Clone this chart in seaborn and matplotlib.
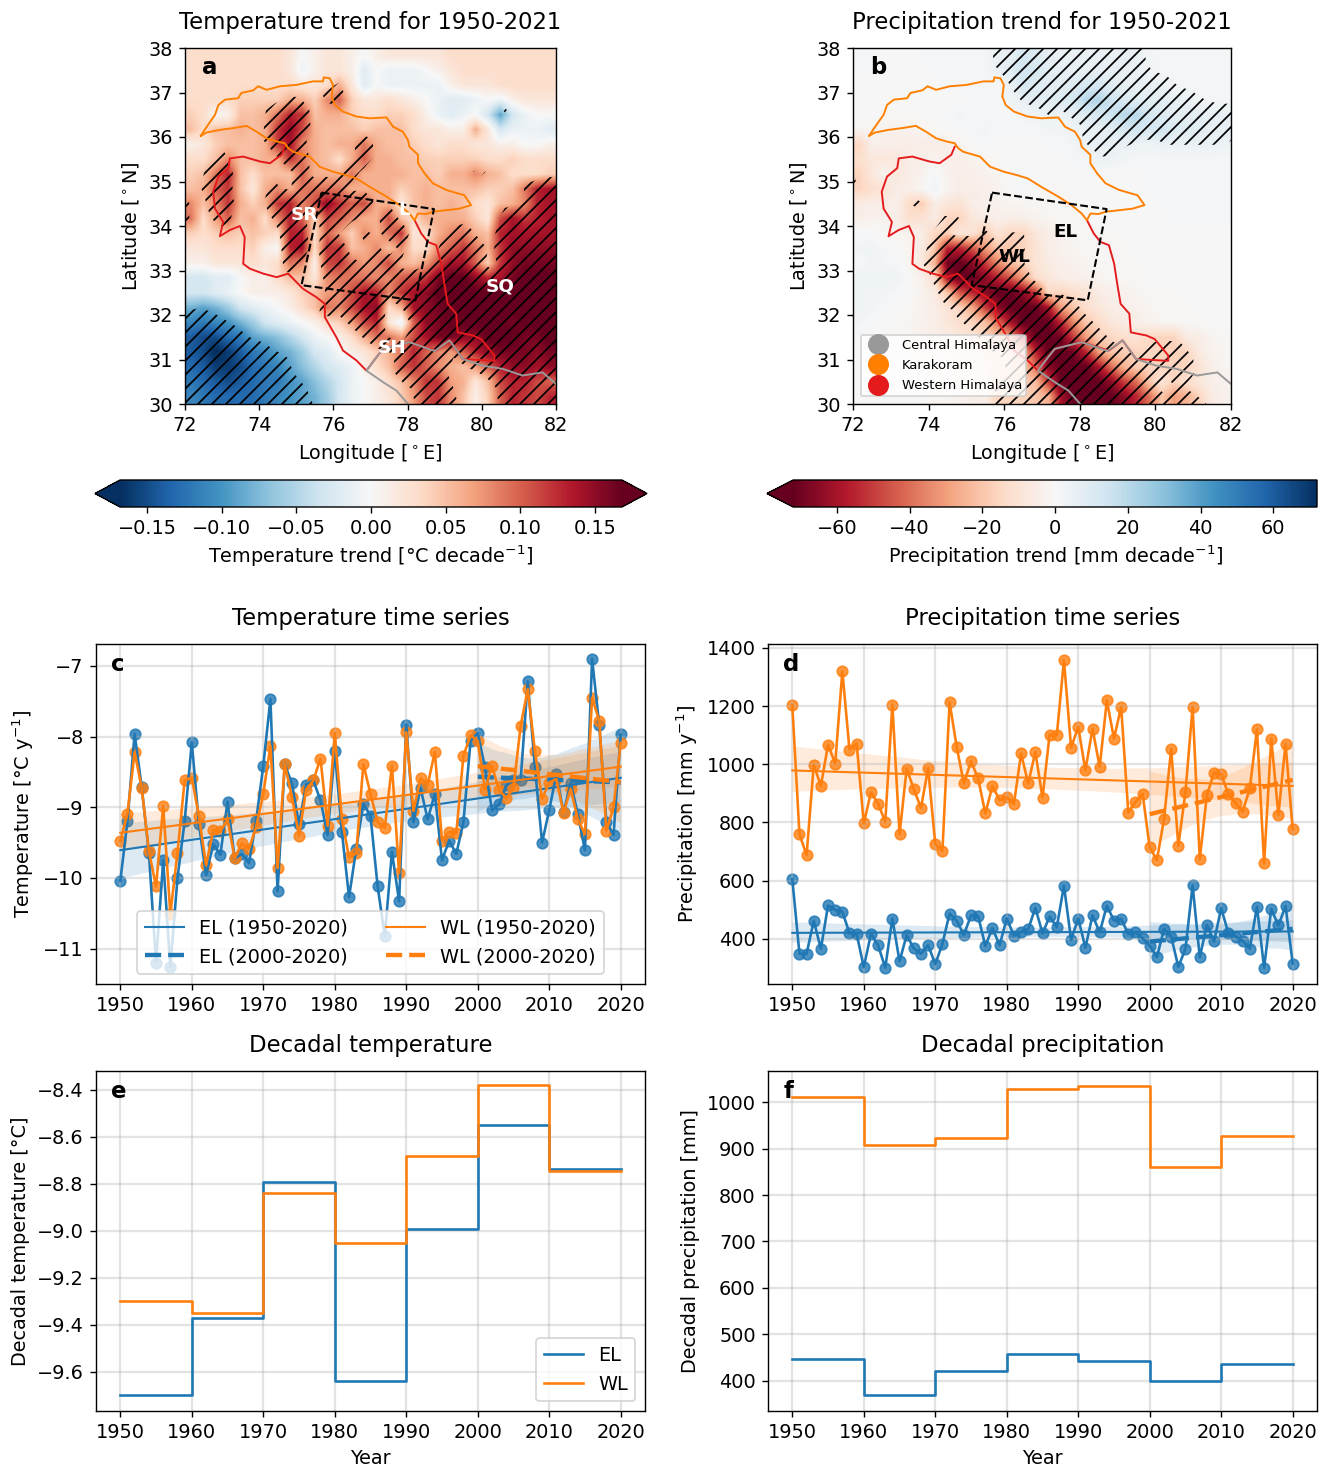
import numpy as np
import pandas as pd
import seaborn as sns
import matplotlib.pyplot as plt
from matplotlib.cm import ScalarMappable
from matplotlib.colors import Normalize
from matplotlib.lines import Line2D

W, H, DPI = 1327, 1466, 126

years = list(range(1950, 2021))
decades = [1950, 1960, 1970, 1980, 1990, 2000, 2010, 2020]

temp_el = [-10.04, -9.2, -7.96, -8.72, -9.65, -11.2, -9.75, -11.26, -10.0, -9.2,
           -8.08, -9.24, -9.96, -9.52, -9.67, -8.92, -9.72, -9.66, -9.79, -9.19,
           -8.41, -7.47, -10.19, -8.39, -8.66, -9.24, -8.68, -8.62, -8.9, -9.39,
           -8.2, -9.35, -10.27, -9.59, -8.95, -9.12, -10.12, -10.82, -9.63, -10.33,
           -7.83, -9.21, -8.73, -9.17, -8.81, -9.75, -9.47, -9.66, -9.21, -8.06,
           -7.95, -8.43, -9.04, -8.96, -8.69, -8.62, -8.62, -7.22, -8.43, -9.5,
           -9.04, -8.53, -9.07, -8.66, -9.09, -9.61, -6.9, -7.84, -9.21, -9.39, -7.97]
temp_wl = [-9.48, -9.09, -8.22, -8.73, -9.62, -10.12, -8.98, -10.51, -9.64, -8.62,
           -8.58, -9.13, -9.82, -9.32, -9.34, -9.17, -9.72, -9.51, -9.59, -9.28,
           -8.81, -8.13, -9.86, -8.39, -8.85, -9.4, -8.75, -8.62, -8.31, -9.26,
           -7.95, -9.17, -9.71, -9.65, -8.39, -8.81, -9.21, -9.29, -8.41, -9.93,
           -7.94, -9.05, -8.59, -8.68, -8.22, -9.47, -9.35, -9.37, -8.27, -7.98,
           -8.06, -8.75, -8.42, -8.76, -8.87, -8.73, -7.85, -7.33, -8.21, -8.88,
           -8.65, -8.6, -9.08, -8.74, -9.17, -9.38, -7.45, -7.78, -9.33, -9.0, -8.09]
prec_el = [605, 349, 349, 462, 366, 515, 499, 494, 419, 417,
           303, 417, 378, 301, 470, 323, 413, 367, 349, 379,
           313, 383, 487, 462, 414, 481, 478, 376, 437, 378,
           470, 411, 424, 433, 507, 419, 477, 440, 583, 397,
           470, 370, 481, 422, 514, 463, 469, 417, 422, 402,
           377, 337, 434, 408, 304, 366, 584, 337, 448, 391,
           506, 419, 408, 393, 366, 511, 301, 503, 446, 513, 315]
prec_wl = [1202, 759, 688, 997, 926, 1067, 1002, 1319, 1050, 1071,
           797, 903, 865, 802, 1205, 759, 985, 914, 850, 986,
           726, 702, 1213, 1059, 934, 1010, 951, 831, 925, 877,
           886, 863, 1037, 934, 1042, 885, 1102, 1099, 1357, 1057,
           1128, 979, 1122, 991, 1219, 1088, 1197, 834, 870, 899,
           714, 671, 811, 1053, 720, 905, 1197, 674, 894, 971,
           966, 897, 867, 837, 917, 1120, 659, 1088, 826, 1070, 776]

dec_temp_el = [-9.70, -9.37, -8.79, -9.64, -8.99, -8.55, -8.735, -8.735]
dec_temp_wl = [-9.30, -9.35, -8.84, -9.05, -8.68, -8.38, -8.745, -8.745]
dec_prec_el = [447, 370, 421, 457, 442, 399, 437, 437]
dec_prec_wl = [1010, 908, 923, 1028, 1035, 860, 926, 926]

# trend maps, rows from 38N down to 30N, columns from 72E to 82E
# temperature in 0.01 C/decade, precipitation in mm/decade
temp_trend = [
    [3, 3, 3, 3, 3, 3, 3, 3, 2, 0, 1, 2, 2, 1, 0, 1, 2, 2, 2, 2, 2, 3, 3, 3, 3, 3, 3, 3, 3, 3],
    [3, 3, 3, 3, 3, 3, 3, 3, 2, -1, 1, 2, 2, 1, -2, 0, -1, -1, -1, 0, 1, 2, 3, 3, 3, 3, 3, 3, 3, 3],
    [3, 3, 3, 3, 3, 3, 3, 3, 3, 2, 2, 3, 6, 2, -2, 0, -1, -1, -1, -1, -1, 1, 2, 2, 2, 3, 3, 3, 3, 3],
    [3, 3, 3, 3, 4, 4, 4, 4, 6, 6, 4, 8, 10, 4, 2, 2, 3, 2, 1, 0, -1, -2, -2, -1, 0, -1, 1, 2, 2, 2],
    [4, 3, 0, 1, 5, 5, 6, 9, 13, 12, 5, 6, 6, 4, 3, 3, 4, 4, 3, 1, -1, -2, -1, 0, -3, -9, -3, -1, 0, 0],
    [5, 3, 5, 5, 6, 5, 6, 12, 15, 11, 6, 5, 5, 5, 4, 5, 5, 5, 3, 2, 2, 1, 1, 6, 2, -3, -1, -1, -1, -2],
    [1, 2, 4, 5, 5, 5, 6, 12, 14, 8, 6, 5, 6, 6, 9, 6, 5, 5, 4, 3, 2, 3, 3, 2, 2, 1, 1, 0, 0, 1],
    [3, 3, 5, 8, 5, 5, 6, 6, 12, 9, 6, 5, 3, 6, 10, 6, 6, 5, 5, 4, 4, 4, 4, 4, 3, 3, 4, 3, 3, 3],
    [4, 5, 9, 13, 5, 3, 5, 5, 5, 10, 6, 6, 6, 9, 6, 6, 6, 6, 5, 5, 4, 6, 6, 8, 6, 5, 3, 3, 3, 4],
    [5, 6, 10, 12, 5, 2, 6, 8, 6, 9, 9, 9, 9, 6, 6, 6, 6, 4, 5, 6, 5, 5, 5, 5, 4, 4, 5, 9, 13, 14],
    [8, 5, 8, 12, 6, 4, 6, 12, 13, 8, 11, 15, 12, 10, 11, 6, 6, 2, 5, 6, 5, 6, 5, 3, 2, 5, 6, 8, 13, 14],
    [9, 3, 7, 10, 5, 6, 3, 8, 13, 10, 4, 11, 10, 8, 6, 6, 11, 5, 3, 6, 6, 6, 6, 4, 2, 11, 14, 12, 13, 14],
    [4, 3, 4, 5, 4, 5, 4, 3, 13, 13, 3, 10, 7, 4, 8, 6, 9, 12, 2, 3, 6, 8, 9, 6, 5, 13, 14, 14, 14, 14],
    [2, 2, 3, 3, 3, 4, 1, 0, 13, 14, 3, 12, 12, 5, 6, 8, 5, 8, 3, 3, 8, 10, 12, 9, 6, 12, 15, 15, 15, 15],
    [1, 1, 2, 2, 2, 3, 2, 3, 9, 8, 1, 11, 12, 9, 7, 8, 11, 6, 5, 7, 11, 14, 14, 10, 4, 12, 15, 16, 16, 16],
    [-3, -3, -2, -2, 0, 1, 1, 3, 5, 5, 2, 8, 9, 9, 9, 8, 8, 10, 11, 12, 16, 17, 17, 15, 13, 14, 16, 17, 17, 17],
    [-3, -3, -2, -1, 0, 1, 1, 1, 2, 4, 5, 7, 8, 11, 14, 13, 8, 12, 14, 15, 17, 17, 17, 17, 17, 17, 17, 17, 17, 17],
    [-8, -9, -8, -6, -3, -2, -1, 0, 1, 3, 5, 9, 8, 11, 14, 15, 3, 6, 14, 15, 16, 17, 17, 17, 17, 17, 17, 17, 17, 17],
    [-11, -12, -11, -10, -8, -6, -3, -2, -1, 0, 1, 3, 4, 7, 11, 13, 2, -1, 10, 15, 16, 17, 17, 17, 17, 17, 16, 17, 17, 17],
    [-14, -15, -15, -13, -12, -9, -8, -7, -5, -3, -1, 0, 1, 3, 6, 9, 9, 7, 11, 14, 16, 16, 15, 15, 17, 17, 17, 16, 16, 17],
    [-14, -15, -17, -16, -14, -12, -11, -9, -8, -6, -3, -2, 0, 1, 2, 4, 6, 9, 13, 10, 8, 7, 10, 13, 15, 16, 16, 16, 15, 16],
    [-13, -14, -16, -16, -15, -13, -12, -11, -9, -7, -5, -3, -2, -1, 1, 3, 5, 10, 12, 10, 8, 6, 5, 7, 10, 13, 15, 15, 14, 15],
    [-12, -13, -14, -15, -14, -13, -12, -12, -10, -9, -7, -5, -3, -1, 0, 1, 3, 5, 8, 12, 12, 7, 6, 2, 5, 11, 13, 13, 11, 10],
    [-11, -12, -13, -13, -13, -13, -12, -11, -10, -9, -8, -6, -3, -1, 0, 1, 2, 4, 7, 11, 12, 8, 5, 1, 4, 10, 13, 12, 11, 13],
]
prec_trend = [
    [1, 1, 0, 0, 0, 1, 1, 1, 1, 1, 1, 5, 6, 12, 10, 7, 5, 5, 5, 5, 5, 6, 5, 2, 1, 1, 1, 1, 1, 1],
    [1, 1, 0, 0, 0, 0, 1, 1, 1, 1, 1, 5, 8, 15, 12, 8, 6, 6, 6, 6, 6, 6, 6, 2, 1, 1, 1, 1, 1, 1],
    [0, 0, 0, 0, 0, 0, 0, 1, 1, 1, 1, 1, 5, 12, 10, 8, 8, 10, 12, 12, 8, 6, 6, 6, 5, 2, 1, 1, 1, 1],
    [0, 0, 0, 0, 0, 0, 0, 0, 0, 1, 1, 1, 2, 6, 8, 8, 10, 12, 20, 22, 15, 11, 9, 8, 8, 6, 5, 2, 1, 1],
    [0, 0, -1, -1, -1, 0, 0, 1, 2, 1, 1, 1, 1, 2, 3, 5, 4, 6, 10, 12, 15, 20, 20, 13, 9, 8, 8, 8, 6, 6],
    [-2, -2, -3, -3, -3, -2, -1, 0, 1, 1, 2, 1, 1, 1, 1, 2, 2, 3, 5, 6, 8, 12, 14, 12, 14, 10, 9, 8, 6, 6],
    [-15, -4, -4, -5, -5, -5, -5, -4, -3, 0, 1, 0, 0, 0, 0, 1, 1, 2, 5, 6, 6, 5, 4, 3, 5, 5, 5, 5, 5, 4],
    [-12, -8, -8, -8, -5, -4, -3, -4, -4, -3, -1, -1, 0, 0, 0, 0, 0, 1, 1, 4, 4, 2, 1, 1, 1, 1, 1, 1, 1, 1],
    [-16, -8, -2, -8, -5, -3, 1, -3, -4, -4, -3, -2, 0, 2, 0, 0, 0, 0, 0, 0, 0, 0, 0, 1, 1, 1, 1, 1, 1, 1],
    [-16, -12, -10, -5, -4, -1, 3, -2, -5, -4, -4, -3, 0, 1, 0, -1, -1, 0, 0, 0, 0, 0, 0, 1, 1, 1, 1, 1, 1, 1],
    [-6, -5, -5, -4, -14, -18, -5, -9, -10, -5, -3, -3, -2, -2, -1, -1, -1, -1, 0, 0, 0, 0, 0, 0, 1, 1, 1, 1, 1, 1],
    [-4, -3, -3, -5, -12, -10, -6, -16, -16, -8, -6, -4, -5, -4, -3, -2, -1, -1, -1, 0, 0, 0, 0, 0, 0, 1, 1, 1, 1, 1],
    [1, 1, -1, -2, -3, -5, -15, -18, -8, -10, -20, -10, -16, -16, -8, -5, -3, -2, -1, -1, -1, 0, 0, 0, 0, 0, 0, 0, 0, 0],
    [2, 3, 1, 0, -2, -6, -20, -55, -55, -45, -30, -20, -20, -16, -10, -5, -3, -2, -1, -1, -1, -1, 0, 0, 0, 0, 0, 0, 0, 0],
    [1, 2, 2, 1, -2, -8, -25, -70, -72, -65, -50, -35, -22, -16, -10, -6, -4, -3, -2, -1, -1, -1, -1, 0, 0, 1, 0, 0, 0, 0],
    [3, 3, 3, 3, 0, -4, -12, -60, -72, -72, -65, -55, -45, -30, -12, -8, -5, -4, -3, -2, -1, -1, -1, 0, 0, 0, 0, 0, 0, 0],
    [3, 2, 2, 1, 0, -3, -6, -20, -45, -55, -65, -72, -72, -65, -50, -14, -16, -12, -10, -6, -4, -3, -2, -1, -1, -1, 0, 0, 0, 0],
    [3, 2, 1, 0, -1, -3, -5, -10, -17, -28, -50, -65, -72, -72, -72, -60, -30, -20, -12, -8, -5, -4, -3, -2, -1, -1, -1, 0, 0, 0],
    [2, 1, 0, -1, -2, -3, -5, -8, -12, -16, -22, -40, -60, -72, -72, -72, -55, -35, -20, -14, -8, -6, -5, -3, -2, -1, -1, -1, 0, 0],
    [1, 0, -1, -1, -2, -3, -4, -6, -8, -10, -15, -20, -30, -55, -72, -72, -70, -50, -30, -18, -15, -12, -10, -15, -16, -16, -6, -5, -2, -1],
    [0, -1, -1, -1, -2, -2, -3, -4, -6, -8, -10, -14, -16, -25, -55, -72, -72, -70, -55, -30, -20, -18, -16, -15, -16, -17, -16, -6, -3, -2],
    [0, 0, -1, -1, -1, -2, -2, -3, -5, -6, -8, -10, -16, -18, -40, -65, -72, -72, -72, -60, -40, -25, -18, -16, -16, -16, -16, -10, -4, -2],
    [0, 0, -1, -1, -1, -1, -2, -3, -4, -5, -6, -16, -16, -18, -22, -50, -72, -72, -72, -72, -65, -50, -40, -20, -10, -16, -12, -8, -4, -3],
    [0, 0, 0, -1, -1, -1, -2, -2, -3, -4, -5, -16, -16, -16, -20, -25, -60, -72, -72, -72, -72, -65, -55, -40, -20, -30, -25, -16, -6, -3],
]

karakoram_lon = [72.43, 72.56, 72.81, 72.90, 73.08, 73.43, 73.52, 73.84, 73.97, 74.20, 74.56, 75.00,
                 75.45, 75.72, 75.74, 75.90, 75.99, 75.95, 76.04, 76.26, 76.62, 76.98, 77.43, 77.61,
                 77.87, 78.01, 78.05, 78.28, 78.28, 78.46, 78.68, 79.04, 79.53, 79.71, 79.40, 78.68,
                 78.50, 78.28, 78.19, 78.05, 77.78, 77.43, 76.98, 76.62, 76.35, 75.99, 75.63, 75.36,
                 74.91, 74.78, 74.69, 74.47, 74.20, 73.93, 73.66, 73.30, 72.94, 72.58, 72.43]
karakoram_lat = [36.03, 36.20, 36.50, 36.72, 36.84, 36.87, 36.99, 37.05, 37.14, 37.06, 37.14, 37.17,
                 37.25, 37.25, 37.34, 37.32, 37.17, 36.91, 36.72, 36.57, 36.46, 36.42, 36.44, 36.23,
                 36.12, 35.93, 35.78, 35.60, 35.41, 35.18, 34.96, 34.81, 34.69, 34.47, 34.39, 34.32,
                 34.27, 34.28, 34.13, 34.28, 34.47, 34.66, 34.88, 35.07, 35.14, 35.22, 35.33, 35.56,
                 35.67, 35.75, 35.86, 35.90, 35.97, 36.12, 36.25, 36.20, 36.16, 36.10, 36.03]
west_him_lon = [74.69, 74.60, 74.29, 74.02, 73.57, 73.21, 73.17, 72.90, 72.76, 72.81, 73.03, 72.94,
                73.21, 73.48, 73.61, 73.57, 73.75, 74.11, 74.47, 74.78, 75.18, 75.54, 75.77, 75.77,
                76.08, 76.26, 76.62, 76.89, 77.16, 77.34, 78.05, 78.77, 79.13, 79.49, 80.34, 80.34,
                79.98, 79.76, 79.35, 79.31, 79.08, 78.99, 78.91, 78.77, 78.55, 78.37, 78.19]
west_him_lat = [35.78, 35.60, 35.41, 35.45, 35.56, 35.52, 35.30, 35.11, 34.77, 34.39, 34.09, 33.77,
                33.91, 34.00, 33.75, 33.15, 33.04, 32.93, 32.85, 32.93, 32.59, 32.40, 32.25, 31.95,
                31.50, 31.20, 30.98, 30.75, 31.05, 31.24, 31.39, 31.20, 31.43, 31.01, 30.97, 31.09,
                31.46, 31.54, 31.61, 32.03, 32.25, 32.70, 33.15, 33.57, 33.64, 33.83, 34.13]
cent_him_lon = [78.01, 77.70, 77.34, 76.89, 77.16, 77.34, 78.05, 78.73, 79.13, 79.49, 80.03, 80.56, 81.10, 81.64, 82.0]
cent_him_lat = [30.0, 30.30, 30.49, 30.75, 31.05, 31.24, 31.39, 31.19, 31.43, 31.01, 30.86, 30.79, 30.64, 30.71, 30.45]
box_lon = [75.68, 78.71, 78.21, 75.14, 75.68]
box_lat = [34.75, 34.38, 32.33, 32.67, 34.75]

ORANGE_R = '#ff7f00'
RED_R = '#e41a1c'
GRAY_R = '#999999'
BLUE, ORANGE = sns.color_palette('tab10')[:2]

plt.rcParams['font.size'] = 11
plt.rcParams['hatch.linewidth'] = 1.0
plt.rcParams['hatch.color'] = 'black'

fig = plt.figure(figsize=(W / DPI, H / DPI), dpi=DPI)


def add_ax(left, top, right, bottom):
    return fig.add_axes([left / W, 1 - bottom / H, (right - left) / W, (bottom - top) / H])


def draw_map(ax, grid, vmax, cmap, levels, title, letter):
    grid = np.array(grid, dtype=float)
    ax.imshow(grid, cmap=cmap, vmin=-vmax, vmax=vmax, extent=[72, 82, 30, 38],
              aspect='auto', interpolation='bilinear')
    lon = np.linspace(72, 82, grid.shape[1])
    lat = np.linspace(38, 30, grid.shape[0])
    # only the outer two bands are significant
    ax.contourf(lon, lat, grid, levels=levels, colors='none', hatches=['///', None, '///'])
    ax.plot(west_him_lon, west_him_lat, color=RED_R, lw=1.1)
    ax.plot(cent_him_lon, cent_him_lat, color=GRAY_R, lw=1.1)
    ax.plot(karakoram_lon, karakoram_lat, color=ORANGE_R, lw=1.1)
    ax.plot(box_lon, box_lat, color='black', lw=1.2, ls='--')
    ax.set_xlim(72, 82)
    ax.set_ylim(30, 38)
    ax.set_xticks(range(72, 83, 2))
    ax.set_yticks(range(30, 39))
    ax.set_xlabel('Longitude [$^\\circ$E]')
    ax.set_ylabel('Latitude [$^\\circ$N]')
    ax.set_title(title, fontsize=13, pad=11)
    ax.text(0.045, 0.945, letter, transform=ax.transAxes, fontsize=13, fontweight='bold',
            va='center', ha='left')


ax_a = add_ax(185, 48, 556, 404)
draw_map(ax_a, np.array(temp_trend) / 100, 0.168, 'RdBu_r',
         [-1, -0.08, 0.07, 1], 'Temperature trend for 1950-2021', 'a')
for name, lon, lat in [('SR', 75.23, 34.25), ('L', 77.9, 34.36), ('SQ', 80.49, 32.65), ('SH', 77.58, 31.26)]:
    ax_a.text(lon, lat, name, color='white', fontsize=10.5, fontweight='bold', ha='center', va='center')

ax_b = add_ax(853, 48, 1231, 404)
draw_map(ax_b, prec_trend, 72, 'RdBu', [-200, -15, 4, 200], 'Precipitation trend for 1950-2021', 'b')
ax_b.text(77.63, 33.87, 'EL', fontsize=10.5, fontweight='bold', ha='center', va='center')
ax_b.text(76.26, 33.3, 'WL', fontsize=10.5, fontweight='bold', ha='center', va='center')
region_handles = [Line2D([], [], ls='', marker='o', ms=11, color=c, label=n)
                  for c, n in [(GRAY_R, 'Central Himalaya'), (ORANGE_R, 'Karakoram'), (RED_R, 'Western Himalaya')]]
ax_b.legend(handles=region_handles, loc='lower left', fontsize=7.5, labelspacing=0.55,
            handletextpad=0.85, borderpad=0.3, bbox_to_anchor=(0.02, 0.022), borderaxespad=0)

cax_a = add_ax(95, 480, 647, 507)
cbar_a = fig.colorbar(ScalarMappable(Normalize(-0.168, 0.168), 'RdBu_r'), cax=cax_a,
                      orientation='horizontal', extend='both')
cbar_a.set_ticks([-0.15, -0.10, -0.05, 0, 0.05, 0.10, 0.15])
cbar_a.set_label('Temperature trend [°C decade$^{-1}$]', labelpad=3)
cax_b = add_ax(767, 480, 1317, 507)
cbar_b = fig.colorbar(ScalarMappable(Normalize(-72, 72), 'RdBu'), cax=cax_b,
                      orientation='horizontal', extend='min')
cbar_b.set_ticks([-60, -40, -20, 0, 20, 40, 60])
cbar_b.set_label('Precipitation trend [mm decade$^{-1}$]', labelpad=3)


def draw_series(ax, df, col, color):
    sns.lineplot(data=df, x='year', y=col, color=color, lw=1.5, errorbar=None, legend=False, ax=ax)
    sns.regplot(data=df, x='year', y=col, color=color, ci=95, seed=1, ax=ax, line_kws={'lw': 1.2})
    sns.regplot(data=df[df['year'] >= 2000], x='year', y=col, color=color, ci=95, seed=1, ax=ax,
                scatter=False, line_kws={'lw': 2.5, 'ls': '--'})


def finish(ax, title, ylabel, ylim, letter, xlabel=''):
    ax.set_xlim(1946.6, 2023.4)
    ax.set_ylim(*ylim)
    ax.set_xticks(decades)
    ax.set_title(title, fontsize=13, pad=11)
    ax.set_ylabel(ylabel)
    ax.set_xlabel(xlabel)
    ax.grid(True, color='#b0b0b0', lw=1.3, alpha=0.35)
    ax.text(0.028, 0.94, letter, transform=ax.transAxes, fontsize=13, fontweight='bold',
            va='center', ha='left')


series = pd.DataFrame({'year': years, 'temp_el': temp_el, 'temp_wl': temp_wl,
                       'prec_el': prec_el, 'prec_wl': prec_wl})

ax_c = add_ax(96, 644, 645, 984)
draw_series(ax_c, series, 'temp_el', BLUE)
draw_series(ax_c, series, 'temp_wl', ORANGE)
finish(ax_c, 'Temperature time series', 'Temperature [°C y$^{-1}$]', (-11.5, -6.69), 'c')
trend_handles = [Line2D([], [], color=BLUE, lw=1.2, label='EL (1950-2020)'),
                 Line2D([], [], color=BLUE, lw=2.5, ls='--', label='EL (2000-2020)'),
                 Line2D([], [], color=ORANGE, lw=1.2, label='WL (1950-2020)'),
                 Line2D([], [], color=ORANGE, lw=2.5, ls='--', label='WL (2000-2020)')]
ax_c.legend(handles=trend_handles, ncol=2, loc='lower center', bbox_to_anchor=(0.5, 0.03), borderaxespad=0)

ax_d = add_ax(768, 644, 1317, 984)
draw_series(ax_d, series, 'prec_el', BLUE)
draw_series(ax_d, series, 'prec_wl', ORANGE)
finish(ax_d, 'Precipitation time series', 'Precipitation [mm y$^{-1}$]', (245, 1413), 'd')

ax_e = add_ax(96, 1071, 645, 1411)
sns.lineplot(x=decades, y=dec_temp_el, color=BLUE, drawstyle='steps-post', errorbar=None, lw=1.5,
             label='EL', ax=ax_e)
sns.lineplot(x=decades, y=dec_temp_wl, color=ORANGE, drawstyle='steps-post', errorbar=None, lw=1.5,
             label='WL', ax=ax_e)
finish(ax_e, 'Decadal temperature', 'Decadal temperature [°C]', (-9.766, -8.32), 'e', 'Year')
ax_e.legend(loc='lower right')

ax_f = add_ax(768, 1071, 1317, 1411)
sns.lineplot(x=decades, y=dec_prec_el, color=BLUE, drawstyle='steps-post', errorbar=None, lw=1.5, ax=ax_f)
sns.lineplot(x=decades, y=dec_prec_wl, color=ORANGE, drawstyle='steps-post', errorbar=None, lw=1.5, ax=ax_f)
finish(ax_f, 'Decadal precipitation', 'Decadal precipitation [mm]', (335, 1067), 'f', 'Year')

fig.savefig('out.png', dpi=DPI)
